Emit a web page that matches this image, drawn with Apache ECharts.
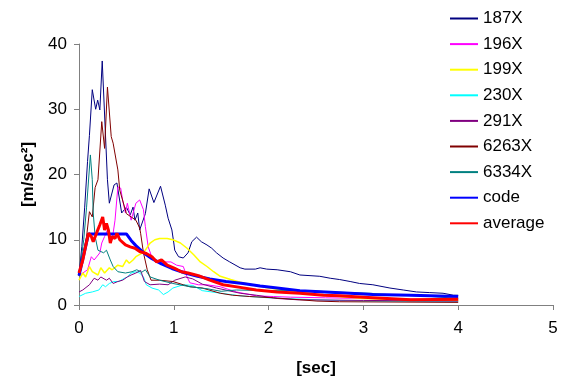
<!DOCTYPE html>
<html>
<head>
<meta charset="utf-8">
<script src="https://cdn.jsdelivr.net/npm/echarts@6/dist/echarts.min.js"></script>
<style>
  html, body { margin: 0; padding: 0; background: #fff; }
  #chart { width: 561px; height: 383px; }
</style>
</head>
<body>
<div id="chart"></div>
<script>
// periods [sec] and spectral acceleration [m/sec2]
const s187X = [
  [0, 4.5], [0.03, 9], [0.06, 15], [0.09, 22], [0.11, 26], [0.14, 33], [0.176, 30], [0.197, 31.4],
  [0.22, 29.9], [0.245, 37.4], [0.3, 19.2], [0.32, 15.6], [0.37, 18.4], [0.4, 18.7], [0.45, 14.1],
  [0.5, 15], [0.54, 13.8], [0.57, 15], [0.59, 13], [0.62, 14.1], [0.64, 11.5], [0.7, 14],
  [0.74, 17.8], [0.79, 15.7], [0.86, 18.2], [0.91, 15.3], [0.94, 13.3], [0.98, 11.5], [1.0, 9.5],
  [1.01, 8.4], [1.05, 7.4], [1.1, 7.2], [1.15, 8.0], [1.19, 9.7], [1.24, 10.4], [1.29, 9.7],
  [1.35, 9.2], [1.4, 8.7], [1.45, 8.0], [1.52, 7.2], [1.59, 6.6], [1.7, 5.7], [1.75, 5.5],
  [1.86, 5.5], [1.91, 5.7], [1.98, 5.5], [2.09, 5.4], [2.23, 5.1], [2.33, 4.6], [2.54, 4.4],
  [2.65, 4.1], [2.75, 3.9], [2.86, 3.6], [2.96, 3.3], [3.1, 3.1], [3.28, 2.6], [3.42, 2.3],
  [3.56, 2.0], [3.7, 1.9], [3.84, 1.8], [3.95, 1.5], [4.0, 1.5]
];
const s196X = [
  [0, 4.5], [0.09, 5.4], [0.13, 7.4], [0.16, 6.9], [0.22, 8], [0.24, 9.5], [0.27, 10.5],
  [0.3, 11.5], [0.35, 10], [0.38, 13], [0.41, 18.1], [0.44, 17.9], [0.46, 16.1], [0.49, 14.1],
  [0.51, 15.6], [0.55, 13], [0.6, 15.6], [0.64, 16.1], [0.68, 14.6], [0.7, 12], [0.73, 8.9],
  [0.78, 6.9], [0.87, 6.6], [0.97, 6.6], [1.03, 6.1], [1.1, 5.9], [1.14, 4.3], [1.17, 3.4],
  [1.26, 3.1], [1.35, 3.1], [1.49, 2.8], [1.66, 2.0], [1.87, 1.4], [2.05, 1.3], [2.23, 1.2],
  [2.6, 1.1], [3.0, 1.0], [4.0, 0.8]
];
const s199X = [
  [0, 3.8], [0.04, 4.9], [0.07, 4.3], [0.11, 5.9], [0.14, 5.1], [0.2, 4.6], [0.23, 5.7],
  [0.27, 4.9], [0.32, 5.7], [0.35, 5.4], [0.41, 6.1], [0.46, 5.9], [0.5, 6.9], [0.53, 6.4],
  [0.57, 6.9], [0.6, 7.4], [0.66, 7.9], [0.7, 8.4], [0.75, 9.5], [0.8, 10], [0.85, 10.2],
  [0.93, 10.2], [0.99, 10], [1.07, 9.5], [1.14, 8.7], [1.21, 7.7], [1.28, 6.6], [1.35, 5.9],
  [1.42, 5.1], [1.49, 4.4], [1.6, 3.9], [1.7, 3.5], [2.0, 2.6], [2.5, 1.6], [3.0, 1.0],
  [3.5, 0.8], [4.0, 0.7]
];
const s230X = [
  [0, 1.3], [0.07, 1.8], [0.14, 2.0], [0.21, 2.3], [0.25, 3.1], [0.28, 2.8], [0.32, 3.3],
  [0.37, 3.6], [0.42, 3.6], [0.48, 4.1], [0.51, 4.3], [0.55, 4.9], [0.6, 5.1], [0.64, 4.9],
  [0.68, 4.3], [0.71, 3.1], [0.77, 2.6], [0.84, 2.3], [0.89, 1.6], [0.94, 2.0], [0.99, 2.6],
  [1.1, 3.1], [1.2, 3.0], [1.3, 2.2], [1.5, 1.8], [1.7, 1.4], [2.0, 1.1], [2.5, 0.8],
  [3.0, 0.6], [4.0, 0.5]
];
const s291X = [
  [0, 2.0], [0.04, 2.3], [0.11, 3.1], [0.16, 4.1], [0.2, 3.8], [0.23, 4.3], [0.29, 3.8],
  [0.32, 4.1], [0.36, 3.3], [0.41, 3.6], [0.46, 3.8], [0.51, 4.3], [0.55, 4.6], [0.6, 4.9],
  [0.65, 5.3], [0.69, 3.6], [0.75, 3.1], [0.85, 3.2], [0.94, 3.1], [1.01, 3.8], [1.12, 4.3],
  [1.2, 4.0], [1.3, 3.2], [1.45, 2.6], [1.7, 1.8], [1.87, 1.5], [2.09, 1.0], [2.3, 0.8],
  [3.0, 0.7], [4.0, 0.6]
];
const s6263X = [
  [0, 4.5], [0.04, 7.7], [0.08, 10.5], [0.11, 14.3], [0.14, 13.5], [0.17, 18], [0.2, 19.2],
  [0.24, 28.1], [0.27, 24], [0.3, 33.4], [0.34, 25.8], [0.36, 24.8], [0.38, 25], [0.41, 20.7],
  [0.43, 17.6], [0.5, 14], [0.55, 13.5], [0.6, 13], [0.64, 11.8], [0.65, 11], [0.68, 8],
  [0.72, 5.4], [0.76, 3.8], [0.85, 3.8], [0.99, 3.6], [1.1, 3.1], [1.17, 2.8], [1.3, 2.6],
  [1.49, 1.8], [1.62, 1.5], [1.8, 1.3], [2.05, 1.1], [2.33, 0.8], [2.51, 0.6], [2.75, 0.5],
  [4.0, 0.4]
];
const s6334X = [
  [0, 4.5], [0.05, 10], [0.08, 15], [0.12, 23], [0.14, 19.2], [0.15, 14.1], [0.17, 10.5],
  [0.2, 8.4], [0.26, 8], [0.29, 8.4], [0.33, 6.9], [0.36, 5.9], [0.41, 5.1], [0.49, 4.9],
  [0.56, 5.1], [0.61, 5.4], [0.66, 5.0], [0.7, 5.4], [0.75, 4.3], [0.85, 3.8], [0.99, 3.3],
  [1.17, 2.8], [1.35, 2.5], [1.5, 2.1], [1.66, 2.3], [2.0, 2.2], [2.44, 2.2], [2.65, 2.0],
  [2.86, 1.9], [3.07, 1.8], [3.35, 1.5], [3.63, 1.4], [4.0, 1.0]
];
const code = [
  [0, 4.5], [0.1, 10.9], [0.5, 10.9], [0.55, 9.9], [0.6, 9.1], [0.66, 8.3], [0.7, 7.8],
  [0.77, 7.1], [0.87, 6.3], [0.98, 5.6], [1.12, 4.9], [1.25, 4.4], [1.38, 4.0], [1.55, 3.6],
  [1.73, 3.3], [1.91, 2.9], [2.09, 2.6], [2.33, 2.2], [2.6, 2.0], [2.86, 1.8], [3.1, 1.6],
  [3.5, 1.5], [4.0, 1.3]
];
const average = [
  [0, 4.9], [0.04, 6.9], [0.07, 9], [0.1, 11], [0.13, 10.5], [0.15, 9.7], [0.19, 11.2],
  [0.22, 12.3], [0.25, 13.5], [0.27, 11.5], [0.29, 12.5], [0.31, 11.5], [0.33, 9.5],
  [0.35, 10.5], [0.38, 10.2], [0.4, 11], [0.43, 10], [0.49, 9.2], [0.54, 8.9], [0.59, 8.7],
  [0.64, 8.2], [0.71, 7.9], [0.77, 7.4], [0.82, 6.6], [0.87, 6.9], [0.93, 6.1], [1.01, 5.6],
  [1.08, 5.1], [1.15, 4.9], [1.26, 4.5], [1.38, 3.8], [1.52, 3.1], [1.7, 2.7], [1.87, 2.3],
  [2.09, 2.0], [2.33, 1.8], [2.58, 1.5], [2.75, 1.4], [3.0, 1.2], [3.5, 0.8], [4.0, 0.9]
];

const names = ['187X', '196X', '199X', '230X', '291X', '6263X', '6334X', 'code', 'average'];
const values = [s187X, s196X, s199X, s230X, s291X, s6263X, s6334X, code, average];
const colors = ['#000080', '#ff00ff', '#ffff00', '#00ffff', '#800080', '#800000', '#008080', '#0000ff', '#ff0000'];
const widths = [1, 1, 1.5, 1, 1, 1, 1, 3, 3];

const font = 'Liberation Sans, Arial, sans-serif';
const axisColor = '#808080';

const chart = echarts.init(document.getElementById('chart'));
chart.setOption({
  animation: false,
  grid: { left: 79, right: 8, top: 44, bottom: 78 },
  legend: {
    orient: 'vertical',
    left: 449,
    top: 10,
    padding: 0,
    itemWidth: 28,
    itemHeight: 14,
    itemGap: 8.6,
    data: names,
    itemStyle: { opacity: 0 },
    textStyle: { fontFamily: font, fontSize: 17, color: '#000' }
  },
  xAxis: {
    type: 'value',
    min: 0,
    max: 5,
    interval: 1,
    name: '[sec]',
    nameLocation: 'middle',
    nameGap: 55,
    nameTextStyle: { fontFamily: font, fontSize: 17, fontWeight: 'bold', color: '#000' },
    axisLine: { lineStyle: { color: axisColor, width: 1 } },
    axisTick: { length: 5, lineStyle: { color: axisColor } },
    axisLabel: { fontFamily: font, fontSize: 17, color: '#000', margin: 15 },
    splitLine: { show: false }
  },
  yAxis: {
    type: 'value',
    min: 0,
    max: 40,
    interval: 10,
    name: '[m/sec²]',
    nameLocation: 'middle',
    nameRotate: 90,
    nameGap: 42,
    nameTextStyle: { fontFamily: font, fontSize: 17, fontWeight: 'bold', color: '#000' },
    axisLine: { show: true, lineStyle: { color: axisColor, width: 1 } },
    axisTick: { show: true, length: 5, lineStyle: { color: axisColor } },
    axisLabel: { fontFamily: font, fontSize: 17, color: '#000', margin: 12 },
    splitLine: { show: false }
  },
  series: names.map((n, i) => ({
    name: n,
    type: 'line',
    data: values[i],
    symbol: 'none',
    color: colors[i],
    lineStyle: { color: colors[i], width: widths[i] }
  }))
});
</script>
</body>
</html>
